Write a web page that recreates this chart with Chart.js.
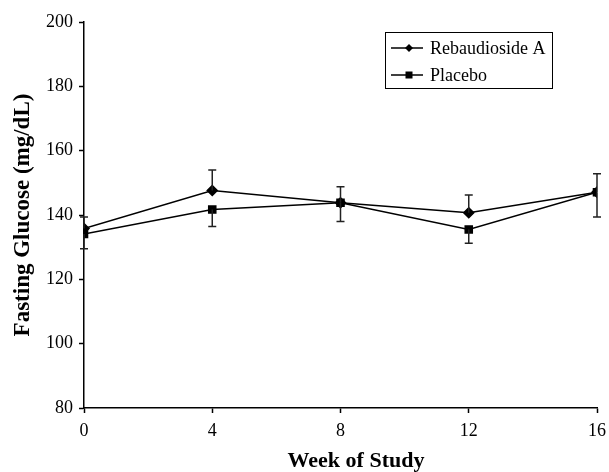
<!DOCTYPE html>
<html><head><meta charset="utf-8">
<script src="https://cdn.jsdelivr.net/npm/chart.js@4"></script>
<style>html,body{margin:0;padding:0;background:#fff}#wrap{width:609px;height:472px}</style>
</head><body><div id="wrap"><canvas id="c" width="609" height="472"></canvas></div>
<script>
const weeks = [0, 4, 8, 12, 16];
const rebA = [135.8, 147.6, 143.8, 140.7, 147.1];
const rebAUpper = [139.4, 154.0, 148.8, 146.2, 152.8];
const placebo = [134.1, 141.7, 143.8, 135.5, 147.1];
const placeboLower = [129.5, 136.4, 138.0, 131.2, 139.4];
const seriesLabels = ['Rebaudioside A', 'Placebo'];
const xTitle = 'Week of Study';
const yTitle = 'Fasting Glucose (mg/dL)';

const FONT = '"Liberation Serif", "Times New Roman", serif';

const errorBars = {
  id: 'errorBars',
  afterDatasetsDraw(chart) {
    const ctx = chart.ctx, xs = chart.scales.x, ys = chart.scales.y;
    ctx.save();
    ctx.strokeStyle = '#222';
    ctx.lineWidth = 1.5;
    const draw = (vals, ends) => {
      weeks.forEach((w, i) => {
        const x = xs.getPixelForValue(w);
        const y0 = ys.getPixelForValue(vals[i]);
        const y1 = ys.getPixelForValue(ends[i]);
        ctx.beginPath();
        ctx.moveTo(x, y0); ctx.lineTo(x, y1);
        ctx.moveTo(x - 4, y1); ctx.lineTo(x + 4, y1);
        ctx.stroke();
      });
    };
    draw(rebA, rebAUpper);
    draw(placebo, placeboLower);
    ctx.restore();
  }
};

const xTitlePlugin = {
  id: 'xTitlePlugin',
  afterDraw(chart) {
    const ctx = chart.ctx;
    ctx.save();
    ctx.fillStyle = '#000';
    ctx.font = 'bold 22px ' + FONT;
    ctx.textAlign = 'center';
    ctx.textBaseline = 'middle';
    ctx.fillText(xTitle, 356, 461);
    ctx.restore();
  }
};

const boxLegend = {
  id: 'boxLegend',
  afterDraw(chart) {
    const ctx = chart.ctx;
    const left = 385, top = 32, w = 167, h = 56;
    ctx.save();
    ctx.fillStyle = '#fff';
    ctx.fillRect(left, top, w, h);
    ctx.strokeStyle = '#000';
    ctx.lineWidth = 1;
    ctx.strokeRect(left + 0.5, top + 0.5, w, h);
    ctx.font = '18px ' + FONT;
    ctx.textBaseline = 'middle';
    chart.data.datasets.forEach((ds, i) => {
      const cy = top + 16 + i * 27;
      ctx.strokeStyle = '#000';
      ctx.lineWidth = 1.5;
      ctx.beginPath();
      ctx.moveTo(left + 6, cy); ctx.lineTo(left + 38, cy);
      ctx.stroke();
      ctx.fillStyle = '#000';
      const mx = left + 24;
      if (ds.pointStyle === 'rectRot') {
        ctx.beginPath();
        ctx.moveTo(mx, cy - 4); ctx.lineTo(mx + 4, cy); ctx.lineTo(mx, cy + 4); ctx.lineTo(mx - 4, cy); ctx.closePath();
        ctx.fill();
      } else {
        ctx.fillRect(mx - 3.5, cy - 3.5, 7, 7);
      }
      ctx.fillText(ds.label, left + 45, cy + 1);
    });
    ctx.restore();
  }
};

new Chart(document.getElementById('c'), {
  type: 'line',
  data: {
    datasets: [
      { label: seriesLabels[0], data: weeks.map((w, i) => ({x: w, y: rebA[i]})),
        borderColor: '#000', backgroundColor: '#000', borderWidth: 1.5,
        pointStyle: 'rectRot', pointRadius: 5, pointHoverRadius: 5, tension: 0 },
      { label: seriesLabels[1], data: weeks.map((w, i) => ({x: w, y: placebo[i]})),
        borderColor: '#000', backgroundColor: '#000', borderWidth: 1.5,
        pointStyle: 'rect', pointRadius: 5, pointHoverRadius: 5, tension: 0 }
    ]
  },
  options: {
    responsive: false,
    animation: false,
    events: [],
    layout: { padding: { left: 0, right: 12, top: 22, bottom: 0 } },
    plugins: { legend: { display: false }, tooltip: { enabled: false } },
    scales: {
      x: {
        type: 'linear', min: 0, max: 16,
        ticks: { stepSize: 4, color: '#000', font: { family: FONT, size: 18 }, padding: 7 },
        grid: { display: true, drawOnChartArea: false, drawTicks: true, tickLength: 5, tickColor: '#000', tickWidth: 1.5 },
        border: { color: '#000', width: 1.5 },
        title: { display: false },
        afterFit(s) { s.height = 64; s.paddingLeft = 0; s.paddingRight = 0; }
      },
      y: {
        min: 80, max: 200,
        ticks: { stepSize: 20, color: '#000', font: { family: FONT, size: 18 }, padding: 6 },
        grid: { display: true, drawOnChartArea: false, drawTicks: true, tickLength: 5, tickColor: '#000', tickWidth: 1.5 },
        border: { color: '#000', width: 1.5 },
        title: { display: true, text: yTitle, color: '#000', font: { family: FONT, size: 23, weight: 'bold', lineHeight: 1 }, padding: { top: 12, bottom: 0 } },
        afterFit(s) { s.width = 84; }
      }
    }
  },
  plugins: [errorBars, boxLegend, xTitlePlugin]
});
</script></body></html>
